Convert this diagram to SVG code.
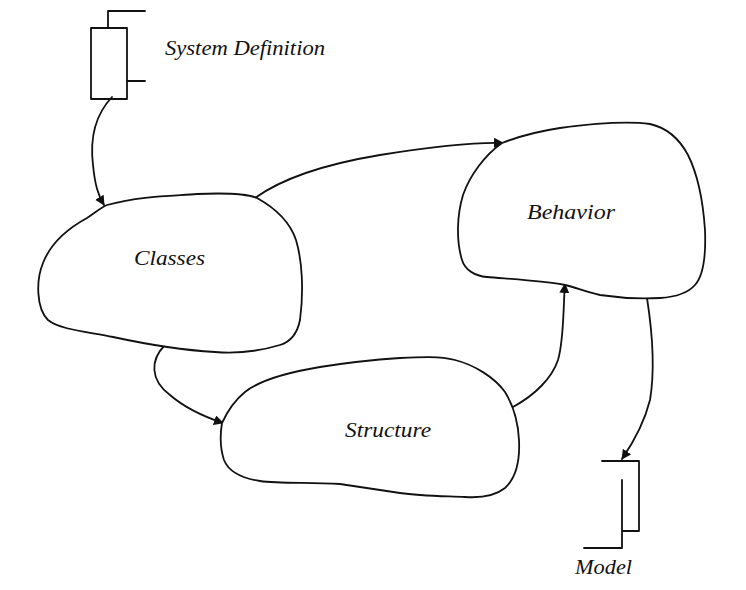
<svg xmlns="http://www.w3.org/2000/svg" width="746" height="590" viewBox="0 0 746 590">
<defs>
<style>
.ln{fill:none;stroke:#111;stroke-width:1.8;stroke-linejoin:round;stroke-linecap:round}
.blob{fill:#fff;stroke:#111;stroke-width:1.8}
.lbl{font-family:"Liberation Serif","Times New Roman",serif;font-style:italic;font-size:20px;fill:#111}
</style>
<marker id="ah" viewBox="0 0 10 10" refX="9" refY="5" markerWidth="10" markerHeight="10" markerUnits="userSpaceOnUse" orient="auto">
<path d="M0,0 L10,5 L0,10 Z" fill="#111"/>
</marker>
</defs>
<rect width="746" height="590" fill="#fff"/>
<g id="connectors">
<path class="ln" marker-end="url(#ah)" d="M112,97 C95,115 90,140 93,165 C95,185 98,195 104,205"/>
<path class="ln" marker-end="url(#ah)" d="M255,198 C280,180 320,165 380,155 C430,147 470,142 503,143"/>
<path class="ln" marker-end="url(#ah)" d="M165,345 C150,360 150,380 170,395 C185,408 205,417 223,423"/>
<path class="ln" marker-end="url(#ah)" d="M513,407 C535,395 552,378 558,360 C564,340 563,310 565,284"/>
<path class="ln" marker-end="url(#ah)" d="M647,298 C652,330 655,370 650,400 C645,420 635,440 622,459"/>
</g>
<g id="system-definition">
<rect class="ln" x="91" y="28" width="36" height="71"/>
<path class="ln" d="M108,28 V11 H145 M127,81 H145"/>
<text class="lbl" x="165" y="55" font-size="21" textLength="160" lengthAdjust="spacingAndGlyphs">System Definition</text>
</g>
<g id="classes">
<path class="blob" d="M107,205 C140,196 170,196 197,194 C220,193 245,193 257,198 C275,208 290,222 296,240 C302,260 304,290 300,320 C297,335 290,342 280,345 C260,351 240,354 215,352 C180,350 150,345 113,337 C90,332 60,330 48,320 C36,308 36,280 43,263 C50,245 65,230 87,218 C95,213 100,208 107,205 Z"/>
<text class="lbl" x="134" y="265" textLength="71" lengthAdjust="spacingAndGlyphs">Classes</text>
</g>
<g id="behavior">
<path class="blob" d="M502,143 C520,136 540,131 560,128 C590,124 627,121 650,124 C668,128 680,140 688,155 C698,175 703,200 705,230 C706,255 704,275 695,285 C688,293 675,297 660,298 C640,299 620,298 600,295 C585,292 578,288 565,285 C545,281 510,279 487,277 C475,276 465,270 462,260 C456,240 457,215 463,195 C470,175 485,155 502,143 Z"/>
<text class="lbl" x="527" y="219" textLength="88" lengthAdjust="spacingAndGlyphs">Behavior</text>
</g>
<g id="structure">
<path class="blob" d="M222,423 C228,410 235,400 245,392 C260,380 290,372 320,367 C345,363 370,360 400,358 C420,357 440,356 455,360 C475,365 495,378 505,392 C513,405 518,420 519,440 C520,460 516,478 505,488 C495,496 480,498 465,497 C440,496 420,496 400,493 C380,490 360,487 340,484 C310,482 280,484 260,481 C240,478 228,470 224,460 C220,448 220,435 222,423 Z"/>
<text class="lbl" x="345" y="437" textLength="86" lengthAdjust="spacingAndGlyphs">Structure</text>
</g>
<g id="model">
<path class="ln" d="M602,461 H639 V531 H622 M622,480 V548 H584"/>
<text class="lbl" x="575" y="574" textLength="57" lengthAdjust="spacingAndGlyphs">Model</text>
</g>
</svg>
